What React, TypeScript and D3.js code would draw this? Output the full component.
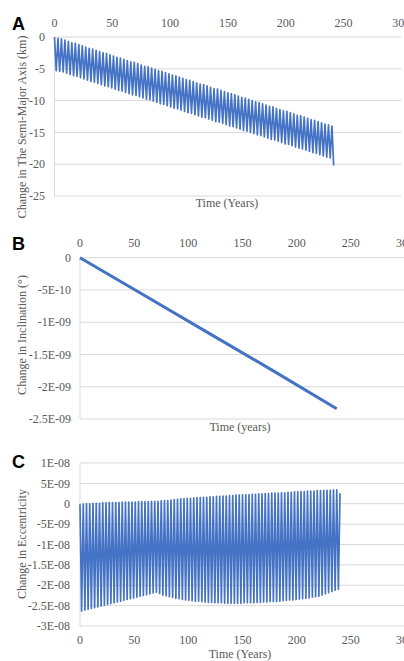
import React, { useEffect, useRef } from 'react';
import * as d3 from 'd3';

// x axis (years), shared by the three panels
const yearTicks = [0, 50, 100, 150, 200, 250, 300];

// A: change in semi-major axis (km), one peak / trough pair every cycle
const aTicks = [0, -5, -10, -15, -20, -25];
const aTickLabels = ['0', '-5', '-10', '-15', '-20', '-25'];
const aPeaks = [
  0.0, -0.2, -0.3, -0.5, -0.7, -0.9, -1.0, -1.2, -1.4, -1.6, -1.8, -1.9, -2.1, -2.3, -2.5, -2.6,
  -2.8, -3.0, -3.2, -3.3, -3.5, -3.7, -3.9, -4.0, -4.2, -4.4, -4.6, -4.7, -4.9, -5.1, -5.3, -5.4,
  -5.6, -5.8, -6.0, -6.1, -6.3, -6.5, -6.7, -6.8, -7.0, -7.2, -7.4, -7.5, -7.7, -7.9, -8.1, -8.2,
  -8.4, -8.6, -8.8, -8.9, -9.1, -9.3, -9.5, -9.6, -9.8, -10.0, -10.2, -10.3, -10.5, -10.7, -10.9,
  -11.0, -11.2, -11.4, -11.6, -11.7, -11.9, -12.1, -12.3, -12.4, -12.6, -12.8, -13.0, -13.1, -13.3,
  -13.5, -13.7, -13.8, -14.0,
];
const aTroughs = [
  -5.3, -5.4, -5.5, -5.7, -5.9, -6.1, -6.2, -6.4, -6.6, -6.8, -7.0, -7.1, -7.3, -7.5, -7.7, -7.8,
  -8.0, -8.2, -8.4, -8.5, -8.7, -8.9, -9.1, -9.2, -9.4, -9.6, -9.8, -9.9, -10.1, -10.3, -10.5, -10.6,
  -10.8, -11.0, -11.2, -11.3, -11.5, -11.7, -11.9, -12.0, -12.2, -12.4, -12.6, -12.7, -12.9, -13.1,
  -13.3, -13.4, -13.6, -13.8, -14.0, -14.1, -14.3, -14.5, -14.7, -14.8, -15.0, -15.2, -15.4, -15.5,
  -15.7, -15.9, -16.1, -16.2, -16.4, -16.6, -16.8, -16.9, -17.1, -17.3, -17.5, -17.6, -17.8, -18.0,
  -18.2, -18.3, -18.5, -18.7, -18.9, -19.0, -20.2,
];

// B: change in inclination (deg)
const bTicks = [0, -5e-10, -1e-9, -1.5e-9, -2e-9, -2.5e-9];
const bTickLabels = ['0', '-5E-10', '-1E-09', '-1.5E-09', '-2E-09', '-2.5E-09'];
const bYears = [0, 60, 120, 180, 237];
const bValues = [0, -5.9e-10, -1.18e-9, -1.77e-9, -2.34e-9];

// C: change in eccentricity, peaks in 1E-09, troughs in 1E-08
const cTicks = [1e-8, 5e-9, 0, -5e-9, -1e-8, -1.5e-8, -2e-8, -2.5e-8, -3e-8];
const cTickLabels = ['1E-08', '5E-09', '0', '-5E-09', '-1E-08', '-1.5E-08', '-2E-08', '-2.5E-08', '-3E-08'];
const cPeaks = [
  -0.1, -0.1, 0.0, 0.0, 0.1, 0.1, 0.1, 0.2, 0.2, 0.3, 0.3, 0.3, 0.3, 0.4, 0.4, 0.4, 0.4, 0.4, 0.5,
  0.5, 0.5, 0.5, 0.6, 0.6, 0.6, 0.7, 0.8, 0.8, 0.9, 1.0, 1.1, 1.2, 1.2, 1.3, 1.3, 1.4, 1.5, 1.5, 1.6,
  1.6, 1.7, 1.7, 1.8, 1.8, 1.9, 1.9, 2.0, 2.0, 2.1, 2.1, 2.2, 2.2, 2.2, 2.3, 2.3, 2.4, 2.4, 2.5, 2.5,
  2.6, 2.6, 2.6, 2.7, 2.7, 2.8, 2.8, 2.9, 2.9, 3.0, 3.0, 3.1, 3.1, 3.1, 3.2, 3.2, 3.3, 3.3, 3.3, 3.4,
  3.4, 2.6,
];
const cTroughs = [
  -2.63, -2.61, -2.59, -2.57, -2.55, -2.53, -2.51, -2.49, -2.47, -2.45, -2.43, -2.41, -2.39, -2.37,
  -2.35, -2.33, -2.31, -2.29, -2.27, -2.25, -2.23, -2.21, -2.19, -2.17, -2.2, -2.24, -2.26, -2.28,
  -2.3, -2.32, -2.33, -2.35, -2.36, -2.37, -2.38, -2.39, -2.39, -2.4, -2.41, -2.42, -2.42, -2.43,
  -2.43, -2.43, -2.44, -2.44, -2.44, -2.44, -2.44, -2.44, -2.43, -2.43, -2.43, -2.43, -2.42, -2.42,
  -2.41, -2.41, -2.4, -2.4, -2.4, -2.39, -2.38, -2.37, -2.36, -2.36, -2.35, -2.34, -2.33, -2.32,
  -2.31, -2.29, -2.28, -2.27, -2.24, -2.21, -2.18, -2.15, -2.12, -2.1,
];

const cycleYears = 3;
const blue = '#4472c4';
const grid = '#d9d9d9';
const textColor = '#595959';
const serif = '"Liberation Serif", "Times New Roman", serif';

// alternate peak, trough, peak ... in time
const zigzag = (peaks, troughs, scale) => {
  const pts = [];
  const n = Math.max(peaks.length, troughs.length);
  for (let i = 0; i < n; i++) {
    if (i < peaks.length) pts.push({ t: i * cycleYears, v: peaks[i] * scale });
    if (i < troughs.length) pts.push({ t: i * cycleYears + cycleYears / 2, v: troughs[i] * scale });
  }
  return pts;
};

const App = () => {
  const svgRef = useRef();

  useEffect(() => {
    const svg = d3.select(svgRef.current);
    svg.selectAll('*').remove();

    const panels = [
      {
        letter: 'A', letterY: 30,
        xRange: [54.5, 401.3], yDomain: [-25, 0], yRange: [196, 37],
        ticks: aTicks, tickLabels: aTickLabels, labelRight: 45,
        xLabelY: 27, xTitle: 'Time (Years)', xTitleX: 227, xTitleY: 207,
        yTitle: 'Change in The Semi-Major Axis (km)', yTitleY: 127,
        series: zigzag(aPeaks, aTroughs, 1), lineWidth: 1.7,
      },
      {
        letter: 'B', letterY: 250,
        xRange: [80, 405], yDomain: [-2.5e-9, 0], yRange: [419, 257.7],
        ticks: bTicks, tickLabels: bTickLabels, labelRight: 71,
        xLabelY: 247, xTitle: 'Time (years)', xTitleX: 240, xTitleY: 431,
        yTitle: 'Change in Inclination (°)', yTitleY: 335,
        series: bYears.map((t, i) => ({ t, v: bValues[i] })), lineWidth: 3,
      },
      {
        letter: 'C', letterY: 468,
        xRange: [80, 405], yDomain: [-3e-8, 1e-8], yRange: [626, 463],
        ticks: cTicks, tickLabels: cTickLabels, labelRight: 70,
        xLabelY: 644, xTitle: 'Time (Years)', xTitleX: 240, xTitleY: 658,
        yTitle: 'Change in Eccentricity', yTitleY: 544,
        series: zigzag(cPeaks.map(v => v / 10), cTroughs, 1e-8), lineWidth: 1.7,
      },
    ];

    panels.forEach(p => {
      const x = d3.scaleLinear().domain([0, 300]).range(p.xRange);
      const y = d3.scaleLinear().domain(p.yDomain).range(p.yRange);
      const g = svg.append('g');

      // horizontal gridlines
      g.selectAll('.grid')
        .data(p.ticks)
        .enter()
        .append('line')
        .attr('x1', x(0))
        .attr('x2', x(300))
        .attr('y1', d => y(d))
        .attr('y2', d => y(d))
        .attr('stroke', grid)
        .attr('stroke-width', 1);

      // vertical axis line
      g.append('line')
        .attr('x1', x(0))
        .attr('x2', x(0))
        .attr('y1', y(p.yDomain[1]))
        .attr('y2', y(p.yDomain[0]))
        .attr('stroke', grid)
        .attr('stroke-width', 1);

      // y tick labels
      g.selectAll('.ylab')
        .data(p.ticks)
        .enter()
        .append('text')
        .attr('x', p.labelRight)
        .attr('y', d => y(d))
        .attr('dy', '0.35em')
        .attr('text-anchor', 'end')
        .attr('font-family', serif)
        .attr('font-size', 12)
        .attr('fill', textColor)
        .text((d, i) => p.tickLabels[i]);

      // x tick labels
      g.selectAll('.xlab')
        .data(yearTicks)
        .enter()
        .append('text')
        .attr('x', d => x(d))
        .attr('y', p.xLabelY)
        .attr('text-anchor', 'middle')
        .attr('font-family', serif)
        .attr('font-size', 12)
        .attr('fill', textColor)
        .text(d => d);

      // data line
      const line = d3.line().x(d => x(d.t)).y(d => y(d.v));
      g.append('path')
        .datum(p.series)
        .attr('fill', 'none')
        .attr('stroke', blue)
        .attr('stroke-width', p.lineWidth)
        .attr('stroke-linejoin', 'round')
        .attr('d', line);

      // axis titles
      g.append('text')
        .attr('x', p.xTitleX)
        .attr('y', p.xTitleY)
        .attr('text-anchor', 'middle')
        .attr('font-family', serif)
        .attr('font-size', 12)
        .attr('fill', textColor)
        .text(p.xTitle);

      g.append('text')
        .attr('transform', `translate(26,${p.yTitleY}) rotate(-90)`)
        .attr('text-anchor', 'middle')
        .attr('font-family', serif)
        .attr('font-size', 12)
        .attr('fill', textColor)
        .text(p.yTitle);

      // panel letter
      g.append('text')
        .attr('x', 12)
        .attr('y', p.letterY)
        .attr('font-family', '"Liberation Sans", Arial, sans-serif')
        .attr('font-weight', 'bold')
        .attr('font-size', 18)
        .attr('fill', '#000')
        .text(p.letter);
    });
  }, []);

  return (
    <svg
      ref={svgRef}
      width={404}
      height={661}
      style={{ position: 'absolute', left: 0, top: 0, background: '#fff' }}
    />
  );
};

export default App;
